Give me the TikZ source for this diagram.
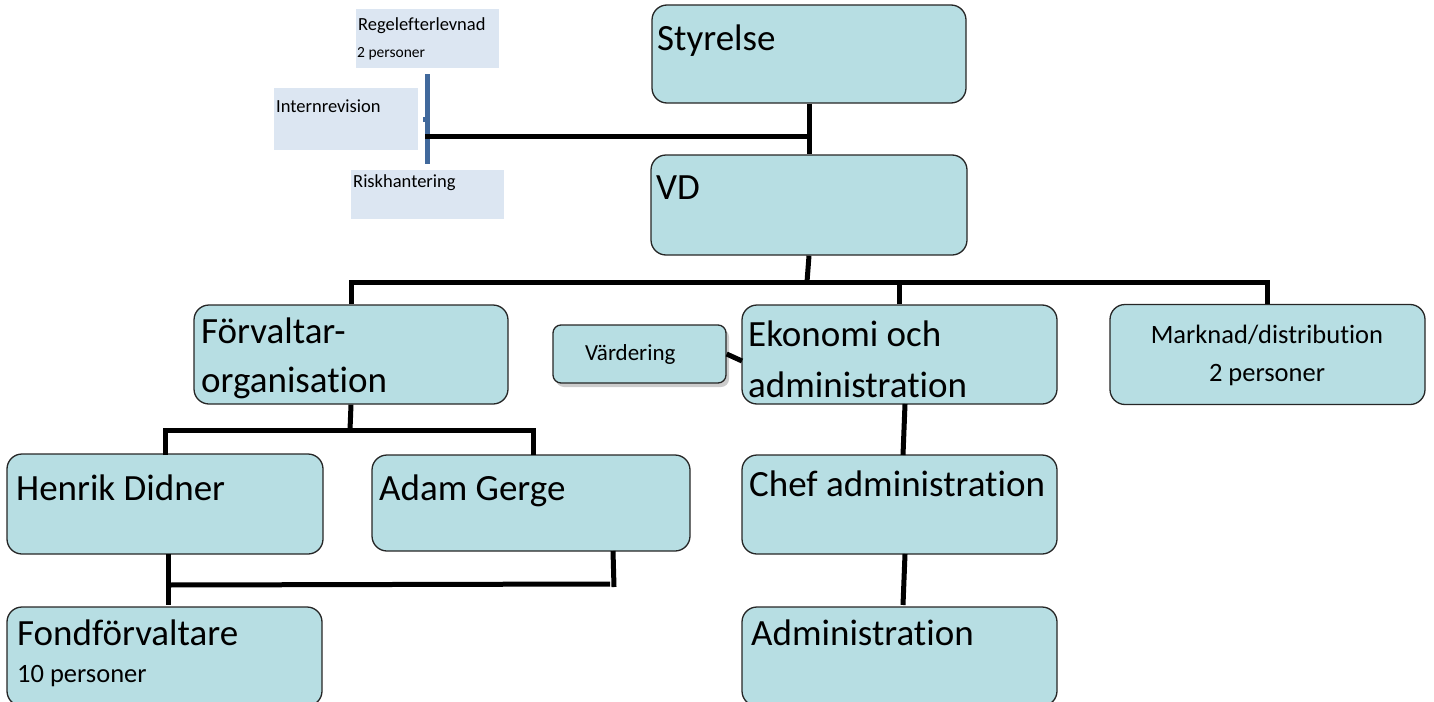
\documentclass[tikz,border=0pt]{standalone}
\usepackage{fontspec}
\setmainfont{Carlito}[Ligatures=NoCommon]
\usetikzlibrary{shadows}
\definecolor{boxfill}{HTML}{B7DEE3}
\definecolor{lightbox}{HTML}{DCE6F2}
\definecolor{blueline}{HTML}{41699C}
\tikzset{
  bx/.style={draw=black!85, line width=1.3pt, fill=boxfill, rounded corners=15pt, inner sep=0pt},
  lb/.style={fill=lightbox, inner sep=0pt},
  big/.style={inner sep=0pt, anchor=base west, font=\fontsize{37}{40}\selectfont},
  mid/.style={inner sep=0pt, anchor=base, font=\fontsize{26.5}{30}\selectfont},
  small/.style={inner sep=0pt, anchor=base west, font=\fontsize{18.5}{22}\selectfont},
  conn/.style={line width=5pt, black},
}
\begin{document}
\begin{tikzpicture}[x=1pt,y=-1pt]
\useasboundingbox (0,0) rectangle (1434,701);
% light boxes
\node[lb, minimum width=143pt, minimum height=59pt] (rege) at (427.5,38.5) {};
\node[lb, minimum width=144pt, minimum height=62pt] (intr) at (346,119) {};
\node[lb, minimum width=153pt, minimum height=49pt] (risk) at (427.5,194.5) {};
\node[small] (regt) at (358,31) {Regelefterlevnad};
\node[small, font=\fontsize{15.5}{18}\selectfont] (regp) at (357,57) {2 personer};
\node[small] (intt) at (276,112) {Internrevision};
\node[small] (riskt) at (353,187) {Riskhantering};
\coordinate (bt) at (427.5,74);
\coordinate (bb) at (427.5,164);
\draw[line width=5pt, blueline] (bt) -- (bb);
\fill[blueline] (423,117) rectangle (425,122);
% main boxes
\node[bx, minimum width=314pt, minimum height=98pt] (sty) at (809,54) {};
\node[bx, minimum width=316pt, minimum height=100pt] (vd) at (809,205) {};
\node[bx, minimum width=314pt, minimum height=99pt] (forv) at (351,354.5) {};
\node[bx, minimum width=315pt, minimum height=99pt] (ekon) at (899.5,354.5) {};
\node[bx, minimum width=315pt, minimum height=100pt] (mark) at (1267.5,354.5) {};
\node[bx, rounded corners=8pt, minimum width=173pt, minimum height=58pt,
      drop shadow={shadow xshift=3pt, shadow yshift=-4pt, fill=black!40}] (vard) at (639.5,354) {};
\node[bx, minimum width=316pt, minimum height=100pt] (henr) at (165,504) {};
\node[bx, minimum width=318pt, minimum height=96pt] (adam) at (531,503) {};
\node[bx, minimum width=315pt, minimum height=99pt] (chef) at (899.5,504.5) {};
\node[bx, minimum width=315pt, minimum height=99pt] (fond) at (164.5,656.5) {};
\node[bx, minimum width=315pt, minimum height=99pt] (admi) at (899.5,656.5) {};
% texts
\node[big] (styt) at (657,51) {Styrelse};
\node[big] (vdt) at (656,199) {VD};
\node[big] (forv1) at (201,343) {Förvaltar-};
\node[big] (forv2) at (201,392) {organisation};
\node[big] (ekon1) at (748,346) {Ekonomi och};
\node[big] (ekon2) at (748,397) {administration};
\node[mid] (mark1) at (1267,343) {Marknad/distribution};
\node[mid] (mark2) at (1267,381) {2 personer};
\node[inner sep=0pt, anchor=base west, font=\fontsize{23}{26}\selectfont] (vardt) at (585,360) {Värdering};
\node[big] (henrt) at (16,500) {Henrik Didner};
\node[big] (adamt) at (379,500) {Adam Gerge};
\node[big] (cheft) at (749,496) {Chef administration};
\node[big] (fondt) at (17,645) {Fondförvaltare};
\node[inner sep=0pt, anchor=base west, font=\fontsize{26.5}{30}\selectfont] (fondp) at (17,682) {10 personer};
\node[big] (admit) at (751,645) {Administration};
% connectors
\coordinate (sv) at (809,136);
\coordinate (svl) at (425,136);
\draw[conn] (sty.south) -- (vd.north);
\draw[conn] (svl) -- (sv);
\coordinate (h1) at (807,282);
\draw[conn] (vd.south) -- (h1);
\draw[conn] (forv.north) |- (h1) -| (mark.north);
\draw[conn] (ekon.north) -- (ekon.north |- h1);
\coordinate (h2) at (350,430);
\draw[conn] (forv.south) -- (h2);
\draw[conn] (165,455) -- (165,430) -- (533,430) -- (533,455);
\coordinate (j1) at (168,585);
\coordinate (j2) at (610,584);
\draw[conn] (168,554) -- (168,605);
\draw[conn] (j1) -- (j2);
\draw[conn] (613,551) -- (614,587);
\draw[conn] (vard.east) -- (742,361);
\draw[conn] (905,404) -- (903,455);
\draw[conn] (905,554) -- (903,605);
\end{tikzpicture}
\end{document}
